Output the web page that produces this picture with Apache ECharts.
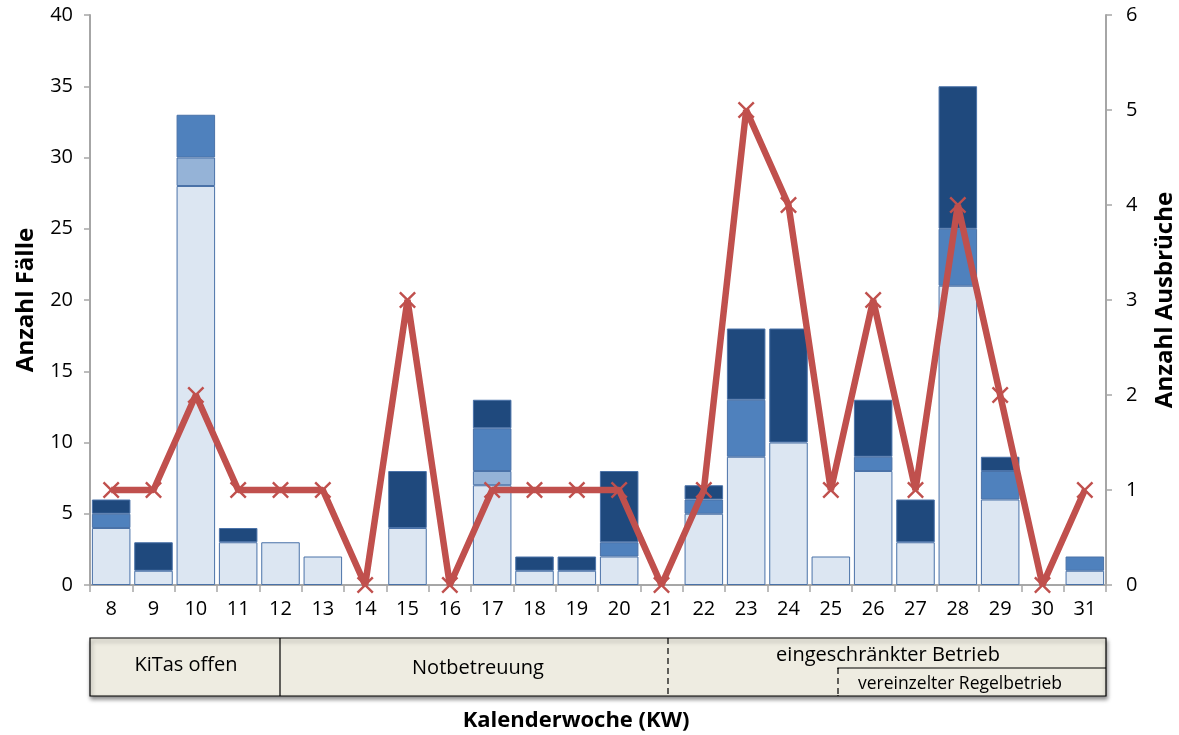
<!DOCTYPE html>
<html>
<head>
<meta charset="utf-8">
<script src="https://cdn.jsdelivr.net/npm/echarts@6/dist/echarts.min.js"></script>
<style>
html,body{margin:0;padding:0;background:#fff;}
#chart{width:1179px;height:735px;}
</style>
</head>
<body>
<div id="chart"></div>
<script>
const weeks = ['8','9','10','11','12','13','14','15','16','17','18','19','20','21','22','23','24','25','26','27','28','29','30','31'];
const casesA = [4,1,28,3,3,2,0,4,0,7,1,1,2,0,5,9,10,2,8,3,21,6,0,1];
const casesB = [0,0,2,0,0,0,0,0,0,1,0,0,0,0,0,0,0,0,0,0,0,0,0,0];
const casesC = [1,0,3,0,0,0,0,0,0,3,0,0,1,0,1,4,0,0,1,0,4,2,0,1];
const casesD = [1,2,0,1,0,0,0,4,0,2,1,1,5,0,1,5,8,0,4,3,10,1,0,0];
const outbreaks = [1,1,2,1,1,1,0,3,0,1,1,1,1,0,1,5,4,1,3,1,4,2,0,1];
const leftTicks = [0,5,10,15,20,25,30,35,40];
const rightTicks = [0,1,2,3,4,5,6];

const FONT = "'Open Sans', 'Liberation Sans', sans-serif";
const nz = a => a.map(v => v === 0 ? '-' : v);
const chart = echarts.init(document.getElementById('chart'));
const mk = (name, data, color) => ({
  name, type: 'bar', stack: 'c', data: nz(data), yAxisIndex: 0,
  barCategoryGap: '9%',
  itemStyle: { color, borderColor: '#4A72A8', borderWidth: 1 },
  emphasis: { disabled: true }
});
const xPath = 'path://M0,1L1,0L5,4L9,0L10,1L6,5L10,9L9,10L5,6L1,10L0,9L4,5Z';
chart.setOption({
  animation: false,
  grid: { left: 90, right: 73, top: 15, bottom: 150, containLabel: false, outerBoundsMode: 'none' },
  xAxis: {
    type: 'category', data: weeks, boundaryGap: true,
    axisLine: { lineStyle: { color: '#A6A6A6', width: 2 } },
    axisTick: { show: true, length: 7, lineStyle: { color: '#A6A6A6', width: 1.5 }, alignWithLabel: false },
    axisLabel: { color: '#000', fontSize: 20, fontFamily: FONT, margin: 14 }
  },
  yAxis: [
    {
      type: 'value', min: leftTicks[0], max: leftTicks[leftTicks.length-1], interval: 5,
      name: 'Anzahl Fälle', nameLocation: 'middle', nameGap: 52, nameRotate: 90,
      nameTextStyle: { fontSize: 24, fontWeight: 'bold', color: '#000', fontFamily: FONT },
      axisLine: { show: true, lineStyle: { color: '#A6A6A6', width: 2 } },
      axisTick: { show: true, length: 6, lineStyle: { color: '#A6A6A6', width: 1.5 } },
      axisLabel: { color: '#000', fontSize: 20, fontFamily: FONT, margin: 17 },
      splitLine: { show: false }
    },
    {
      type: 'value', min: rightTicks[0], max: rightTicks[rightTicks.length-1], interval: 1,
      position: 'right',
      name: 'Anzahl Ausbrüche', nameLocation: 'middle', nameGap: 47, nameRotate: 90,
      nameTextStyle: { fontSize: 24, fontWeight: 'bold', color: '#000', fontFamily: FONT },
      axisLine: { show: true, lineStyle: { color: '#A6A6A6', width: 2 } },
      axisTick: { show: true, length: 6, lineStyle: { color: '#A6A6A6', width: 1.5 } },
      axisLabel: { color: '#000', fontSize: 20, fontFamily: FONT, margin: 20 },
      splitLine: { show: false }
    }
  ],
  series: [
    mk('A', casesA, '#DCE6F2'),
    mk('B', casesB, '#95B3D7'),
    mk('C', casesC, '#4F81BD'),
    mk('D', casesD, '#1F497D'),
    {
      name: 'Ausbrüche', type: 'line', yAxisIndex: 1, data: outbreaks,
      symbol: xPath, symbolSize: 17,
      lineStyle: { color: '#C0504D', width: 6.5 },
      itemStyle: { color: '#C0504D' },
      emphasis: { disabled: true },
      z: 5
    }
  ],
  graphic: [
    { type: 'rect', shape: { x: 90, y: 638, width: 1016, height: 58 },
      style: { fill: '#EEECE1', stroke: '#000', lineWidth: 1.2, shadowBlur: 4, shadowOffsetX: 1, shadowOffsetY: 3, shadowColor: 'rgba(0,0,0,0.45)' } },
    { type: 'line', shape: { x1: 280, y1: 638, x2: 280, y2: 696 }, style: { stroke: '#000', lineWidth: 1.2 } },
    { type: 'line', shape: { x1: 668, y1: 638, x2: 668, y2: 696 }, style: { stroke: '#000', lineWidth: 1.2, lineDash: [6, 4] } },
    { type: 'polyline', shape: { points: [[838, 696], [838, 668], [1106, 668]] }, style: { stroke: '#000', lineWidth: 1.2, fill: null } },
    { type: 'line', shape: { x1: 838, y1: 669, x2: 838, y2: 695 }, style: { stroke: '#EEECE1', lineWidth: 2 } },
    { type: 'line', shape: { x1: 838, y1: 668, x2: 838, y2: 696 }, style: { stroke: '#000', lineWidth: 1.2, lineDash: [6, 4] } },
    { type: 'text', x: 186, y: 665, style: { text: 'KiTas offen', font: "20px " + FONT, fill: '#000', align: 'center', verticalAlign: 'middle' } },
    { type: 'text', x: 478, y: 668, style: { text: 'Notbetreuung', font: "20px " + FONT, fill: '#000', align: 'center', verticalAlign: 'middle' } },
    { type: 'text', x: 888, y: 655, style: { text: 'eingeschränkter Betrieb', font: "20px " + FONT, fill: '#000', align: 'center', verticalAlign: 'middle' } },
    { type: 'text', x: 960, y: 684, style: { text: 'vereinzelter Regelbetrieb', font: "17.5px " + FONT, fill: '#000', align: 'center', verticalAlign: 'middle' } },
    { type: 'text', x: 576, y: 721, style: { text: 'Kalenderwoche (KW)', font: "bold 22px " + FONT, fill: '#000', align: 'center', verticalAlign: 'middle' } }
  ]
});
</script>
</body>
</html>
